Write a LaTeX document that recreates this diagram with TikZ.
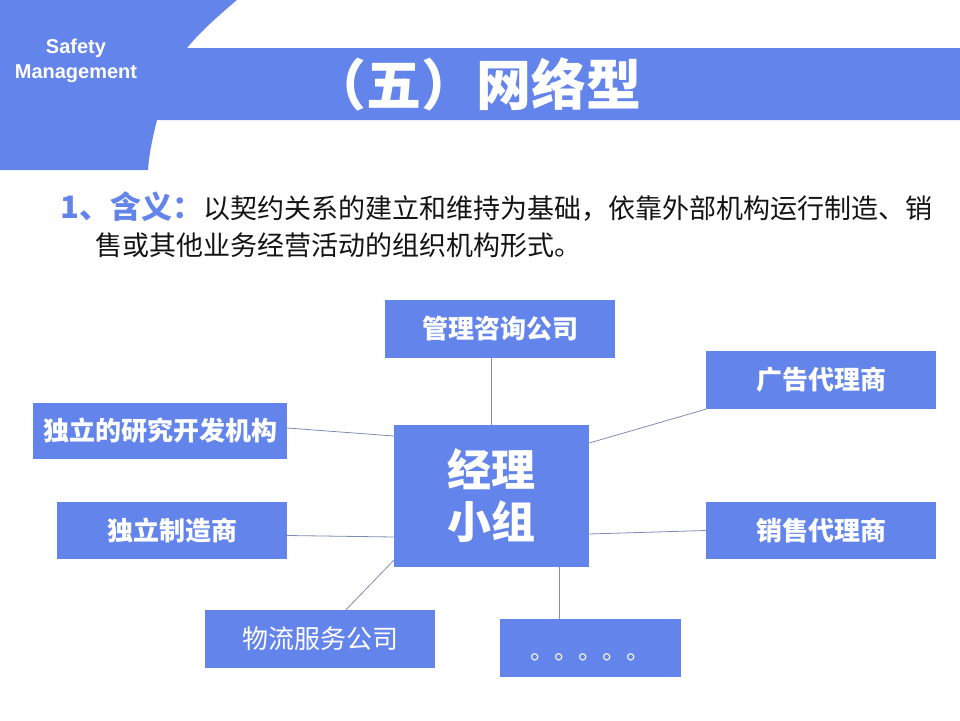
\documentclass[tikz,border=0pt]{standalone}
\usepackage{fontspec}
\setmainfont{Liberation Sans}
\newfontfamily\cjk{Noto Sans CJK SC}
\definecolor{mainblue}{RGB}{99,132,234}
\definecolor{linec}{RGB}{125,140,180}
\definecolor{bodytext}{RGB}{20,20,20}
\begin{document}
\begin{tikzpicture}[x=1pt,y=-1pt,
  box/.style={fill=mainblue,text=white,inner sep=0pt,font=\cjk\bfseries\fontsize{26}{30}\selectfont},
  conn/.style={draw=linec,line width=0.8pt}]
\useasboundingbox (0,0) rectangle (960,720);
% banner
\fill[mainblue] (0,0) -- (237,0) .. controls (218,16) and (200,32) .. (187,48) -- (960,48) -- (960,120) -- (157,120) .. controls (152,140) and (149,155) .. (148,170) -- (0,170) -- cycle;
\node[text=white,align=center,font=\bfseries\fontsize{20}{25}\selectfont] (brand) at (76,61) {Safety\\Management};
\node[text=white,font=\cjk\bfseries\fontsize{55}{60}\selectfont] (title) at (476,84) {（五）网络型};
% definition text
\node[anchor=west,inner sep=0pt] (def1) at (60,207) {{\cjk\bfseries\fontsize{31}{36}\selectfont\color{mainblue}1、含义：}{\cjk\fontsize{27}{32}\selectfont\color{bodytext}以契约关系的建立和维持为基础，依靠外部机构运行制造、销}};
\node[anchor=west,inner sep=0pt,text=bodytext,font=\cjk\fontsize{27}{32}\selectfont] (def2) at (95,245) {售或其他业务经营活动的组织机构形式。};
% boxes
\node[box,minimum width=230pt,minimum height=58pt] (mgmt) at (500,329) {管理咨询公司};
\node[box,minimum width=230pt,minimum height=58pt] (ad) at (821,380) {广告代理商};
\node[box,minimum width=254pt,minimum height=56pt] (rd) at (160,431) {独立的研究开发机构};
\node[box,minimum width=195pt,minimum height=142pt,align=center,font=\cjk\bfseries\fontsize{44}{52}\selectfont] (center) at (491.5,496) {经理\\小组};
\node[box,minimum width=230pt,minimum height=57pt] (mfr) at (172,530.5) {独立制造商};
\node[box,minimum width=230pt,minimum height=57pt] (sales) at (821,530.5) {销售代理商};
\node[box,minimum width=230pt,minimum height=58pt,font=\cjk\fontsize{26}{30}\selectfont] (log) at (320,639) {物流服务公司};
\node[box,minimum width=181pt,minimum height=58pt] (dots) at (590.5,648) {};
\node[text=white,inner sep=0pt,font=\cjk\fontsize{24}{28}\selectfont] (dotstxt) at ([yshift=-9pt]dots.center) {。。。。。};
% connectors
\draw[conn] (center.north) -- (center.north |- mgmt.south);
\draw[conn] ([yshift=53pt]center.east) -- (ad.south west);
\draw[conn] ([yshift=3pt]rd.east) -- ([yshift=60pt]center.west);
\draw[conn] ([yshift=-5pt]mfr.east) -- ([yshift=-41pt]center.west);
\draw[conn] ([yshift=-38pt]center.east) -- (sales.west);
\draw[conn] ([yshift=7pt]center.south west) -- ([xshift=26pt]log.north);
\draw[conn] ([xshift=-31.5pt]dots.north) -- ([xshift=-31.5pt]dots.north |- center.south);
\end{tikzpicture}
\end{document}
